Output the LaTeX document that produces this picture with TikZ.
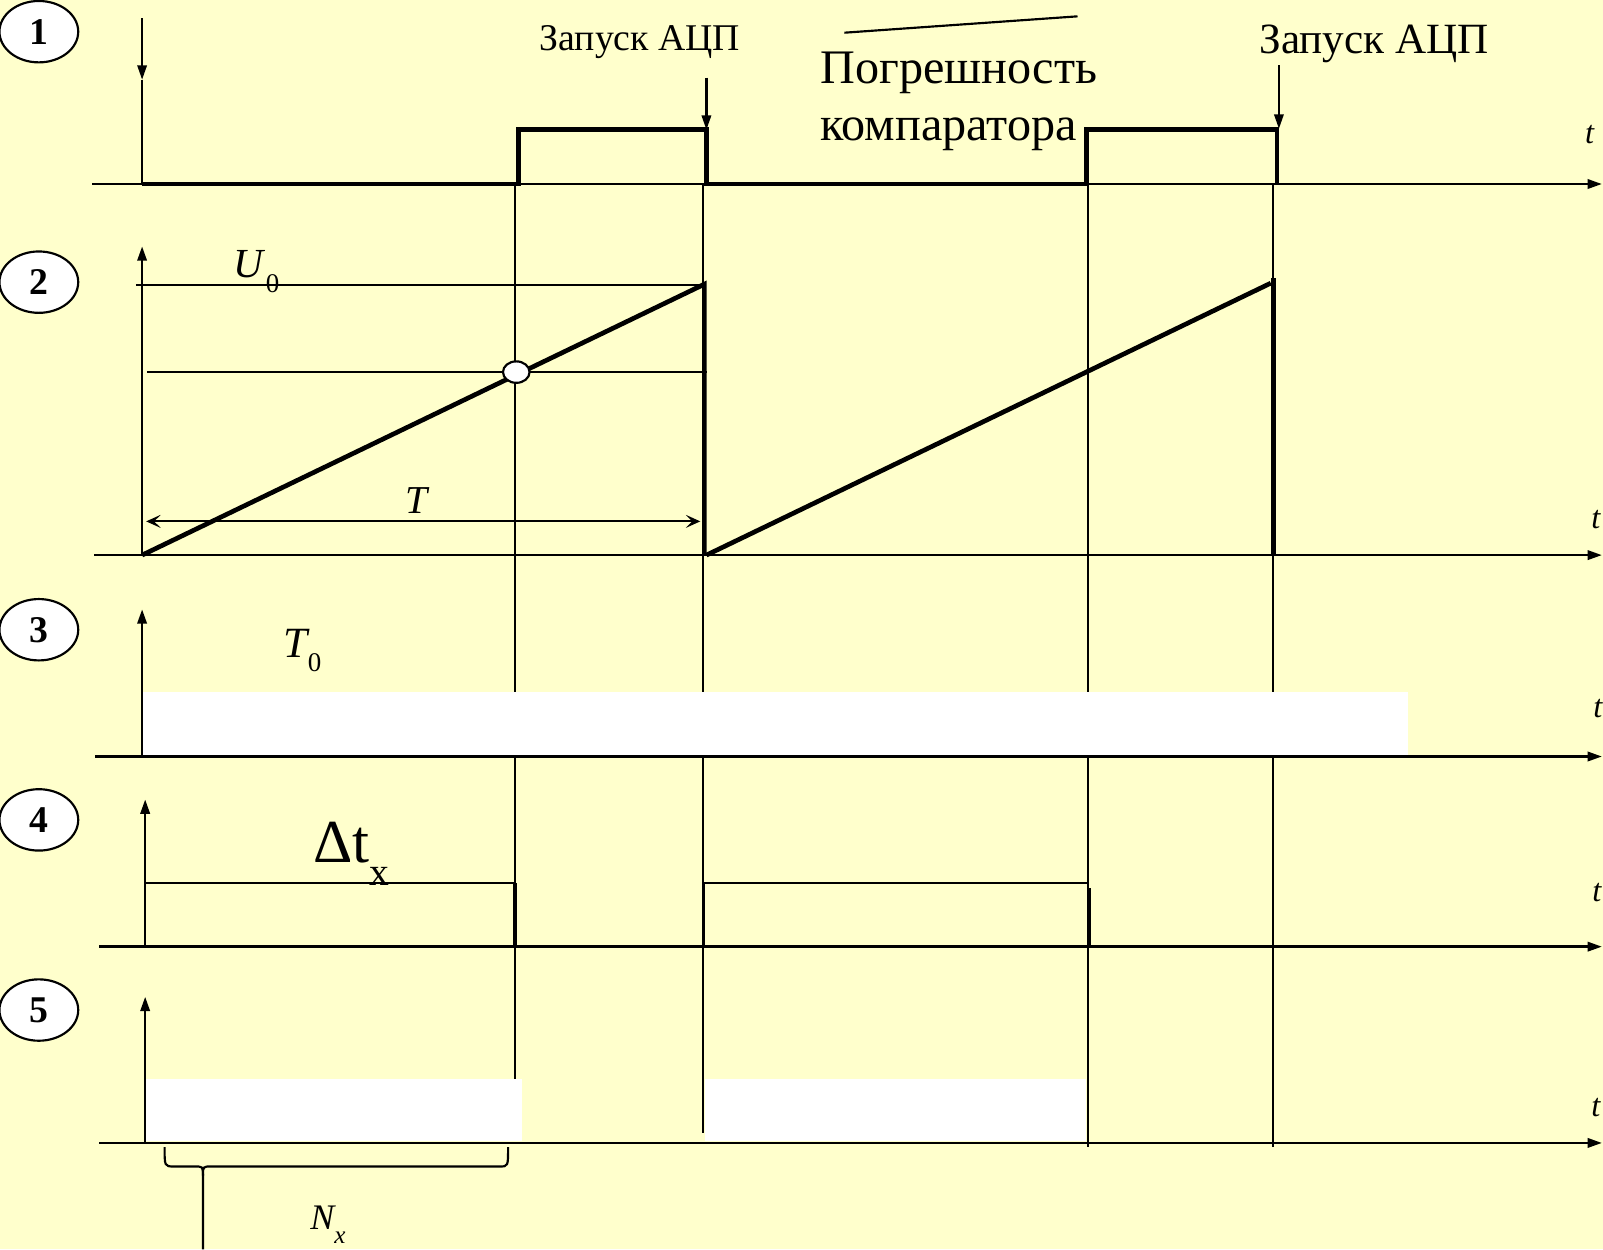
\documentclass[tikz,border=0pt]{standalone}
\usepackage{fontspec}
\setmainfont{Liberation Serif}
\usetikzlibrary{arrows.meta,shapes.geometric}
\definecolor{slide}{RGB}{255,255,204}

\begin{document}
\begin{tikzpicture}[x=0.01cm, y=-0.01cm,
  axisarrow/.style={line width=0.7pt, -{Triangle[length=4pt, width=2.6pt]}},
  gridline/.style={line width=0.55pt},
  thinline/.style={line width=0.6pt},
  signal/.style={line width=1.3pt},
  edge/.style={line width=1pt},
  dimarrow/.style={line width=0.6pt, {Stealth[length=4pt, width=3.6pt, inset=1.8pt]}-{Stealth[length=4pt, width=3.6pt, inset=1.8pt]}},
  numbox/.style={ellipse, draw, line width=0.6pt, fill=white, minimum width=0.77cm, minimum height=0.6cm, inner sep=0pt, font=\fontsize{10.5}{12}\selectfont\bfseries},
  lbl/.style={inner sep=0pt, anchor=base}]
  \useasboundingbox (0,0) rectangle (1568,1222);
  \fill[slide] (0,0) rectangle (1568,1222);
  \clip (0,0) rectangle (1568,1222);

  \draw[gridline] (504,180) -- (504,1115);
  \draw[gridline] (688,180) -- (688,1108);
  \draw[gridline] (1064,180) -- (1064,1122);
  \draw[gridline] (1245,180) -- (1245,1122);
  \fill[white] (140,677) rectangle (1377,739);
  \fill[white] (142,1055) rectangle (511,1116);
  \fill[white] (690,1055) rectangle (1062,1116);

  \node[numbox] (n1) at (38,31) {1};
  \draw[axisarrow] (90,180) -- (1567,180);
  \draw[thinline, -{Triangle[length=4pt, width=2.6pt]}] (139,18) -- (139,78);
  \draw[thinline] (139,78) -- (139,180);
  \draw[signal] (139,180) -- (507,180) -- (507,127) -- (691,127) -- (691,180) -- (1063,180) -- (1063,127) -- (1249,127) -- (1249,180);
  \node[lbl, font=\fontsize{10.5}{12}\selectfont] (zap1) at (626,49) {Запуск АЦП};
  \node[lbl, font=\fontsize{12}{14}\selectfont] (zap2) at (1344,52) {Запуск АЦП};
  \coordinate (zap1a) at (691,76);
  \coordinate (zap1b) at (691,127);
  \coordinate (zap2a) at (1251,64);
  \coordinate (zap2b) at (1251,126);
  \draw[thinline, -{Triangle[length=4pt, width=2.6pt]}] (zap1a) -- (zap1b);
  \draw[thinline, -{Triangle[length=4pt, width=2.6pt]}] (zap2a) -- (zap2b);
  \node[lbl, anchor=base west, font=\fontsize{13.4}{16}\selectfont] (err1) at (802,82) {Погрешность};
  \node[lbl, anchor=base west, font=\fontsize{13.4}{16}\selectfont] (err2) at (802,137) {компаратора};
  \draw[thinline] (826,32) -- (1054,16);
  \node[lbl, font=\fontsize{9}{10}\selectfont\itshape] (ta) at (1555,140) {t};

  \node[numbox] (n2) at (38,276) {2};
  \draw[axisarrow] (92,543) -- (1567,543);
  \draw[axisarrow] (139,543) -- (139,241);
  \draw[thinline] (133,279) -- (688,279);
  \draw[thinline] (144,364) -- (692,364);
  \draw[signal] (139,543) -- (689,278) -- (689,543);
  \draw[signal] (691,543) -- (1243,277);
  \draw[signal] (1246,272) -- (1246,543);
  \draw[dimarrow] (143,510) -- (685,510);
  \draw[thinline, fill=white] (505,364) ellipse (13 and 10.5);
  \node[lbl, anchor=base west] (u0) at (228,271) {\fontsize{11.5}{12}\selectfont\itshape U\/\upshape\raisebox{-4.4pt}{\fontsize{7.5}{8}\selectfont 0}};
  \node[lbl, font=\fontsize{11}{12}\selectfont\itshape] (tper) at (407,502) {T};
  \node[lbl, font=\fontsize{9}{10}\selectfont\itshape] (tb) at (1561,517) {t};

  \node[numbox] (n3) at (38,616) {3};
  \draw[axisarrow] (93,740) -- (1567,740);
  \draw[axisarrow] (139,740) -- (139,596);
  \node[lbl, anchor=base west] (t0) at (277,643) {\fontsize{12}{13}\selectfont\itshape T\upshape\raisebox{-4pt}{\fontsize{7.5}{8}\selectfont 0}};
  \node[lbl, font=\fontsize{9}{10}\selectfont\itshape] (tc) at (1563,702) {t};

  \node[numbox] (n4) at (38,802) {4};
  \draw[axisarrow] (97,926) -- (1567,926);
  \draw[axisarrow] (142,926) -- (142,782);
  \draw[thinline] (142,864) -- (503,864);
  \draw[edge] (504,864) -- (504,926);
  \draw[thinline] (688,864) -- (1064,864);
  \draw[edge] (688,864) -- (688,926);
  \draw[edge] (1065,869) -- (1065,926);
  \node[lbl, anchor=base west] (dtx) at (306,844) {\fontsize{17}{18}\selectfont Δt\raisebox{-6.3pt}{\fontsize{11}{12}\selectfont x}};
  \node[lbl, font=\fontsize{9}{10}\selectfont\itshape] (td) at (1562,882) {t};

  \node[numbox] (n5) at (38,988) {5};
  \draw[axisarrow] (97,1118) -- (1567,1118);
  \draw[axisarrow] (142,1118) -- (142,975);
  \draw[thinline] (161,1122) .. controls (161,1141) .. (170,1141) -- (190,1141) .. controls (198.5,1141) .. (198.5,1150) -- (198.5,1222);
  \draw[thinline] (198.5,1150) .. controls (198.5,1141) .. (207,1141) -- (489,1141) .. controls (497,1141) .. (497,1122);
  \node[lbl, anchor=base west] (nx) at (303,1203) {\fontsize{10}{11}\selectfont\itshape N\raisebox{-3.7pt}{\fontsize{7}{8}\selectfont x}};
  \node[lbl, font=\fontsize{9}{10}\selectfont\itshape] (te) at (1561,1092) {t};
\end{tikzpicture}
\end{document}
